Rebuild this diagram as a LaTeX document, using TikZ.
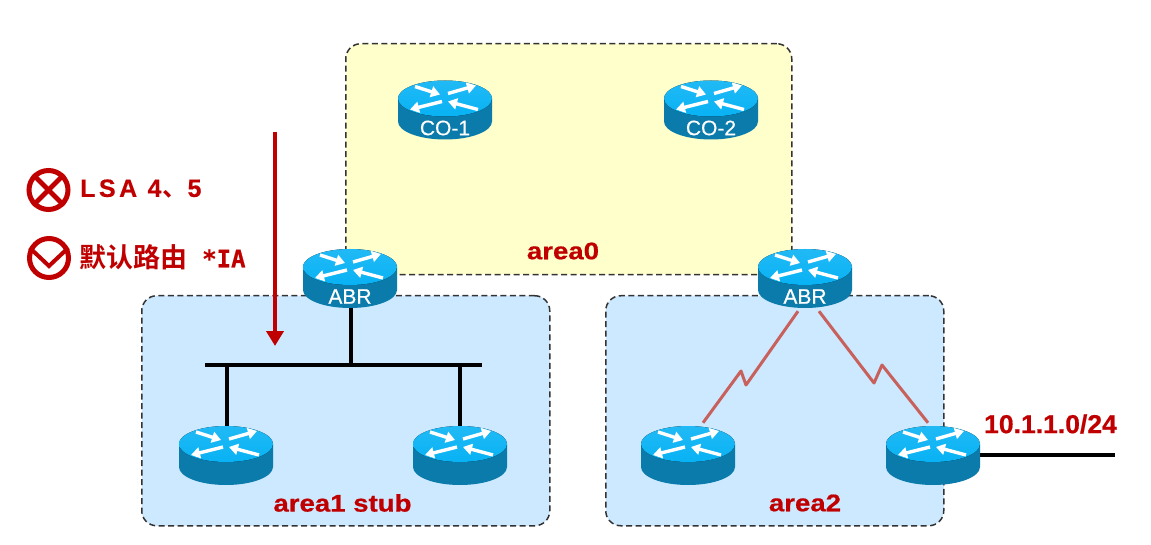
\documentclass[tikz,border=0pt]{standalone}
\usepackage{fontspec}
\setmainfont{Liberation Sans}
\newfontfamily\boldface[FakeBold=0.6]{Liberation Sans Bold}
\newfontfamily\spacedface[FakeBold=0.5,LetterSpace=14]{Liberation Sans Bold}
\newfontfamily\labelface[FakeBold=0.4]{Liberation Sans}
\newfontfamily\cjkfont{Noto Sans CJK SC Bold}
\newfontfamily\monofont[FakeBold=0.6]{DejaVu Sans Mono Bold}
\usetikzlibrary{arrows.meta,calc}
\definecolor{alert}{HTML}{C00000}
\definecolor{zoneyellow}{HTML}{FFFFCC}
\definecolor{zoneblue}{HTML}{CCE9FF}
\definecolor{routertop}{HTML}{08B2F4}
\definecolor{routerside}{HTML}{0A7BAA}
\definecolor{seriallink}{HTML}{C8605C}
\tikzset{
  x=1pt,y=-1pt,
  zone/.style={draw=black!80,line width=1.5pt,dash pattern=on 6pt off 3.5pt,rounded corners=15pt,anchor=north west,inner sep=0pt},
  arealabel/.style={font=\fontsize{24}{26}\boldface,text=alert,xscale=1.15,transform shape,inner sep=0pt},
  routerbox/.style={minimum width=94pt,minimum height=59pt,inner sep=0pt},
  routertext/.style={text=white,font=\fontsize{21}{23}\labelface,inner sep=0pt},
  wire/.style={line width=3.2pt,black},
  serial/.style={line width=3pt,seriallink,line join=round},
  flow/.style={white,line width=3.4pt,-{Triangle[width=11pt,length=9pt]}},
  badge/.style={draw=alert,line width=5pt,circle,inner sep=0pt,minimum size=39pt},
  badgeline/.style={alert,line width=4.6pt},
}
% Cisco-style router: a drum with four arrows on its top face
\newcommand{\router}[4]{%
  \node[routerbox] (#1) at (#2,#3+11.5) {};
  \begin{scope}[shift={(#2,#3)}]
    \fill[routerside] (-47pt,0) -- (-47pt,23) arc[start angle=180,end angle=360,x radius=47pt,y radius=18pt] -- (47pt,0) -- cycle;
    \fill[top color=routertop!90!white,bottom color=routertop] (0,0) ellipse[x radius=47pt,y radius=18pt];
    \draw[flow] (-30,-12) -- (-5,-4);
    \draw[flow] (3,-5) -- (31,-13);
    \draw[flow] (-3,3) -- (-35,11);
    \draw[flow] (33,11) -- (3,3);
  \end{scope}
  \node[routertext] (#1label) at (#2,#3+29.5) {#4};
}
\begin{document}
\begin{tikzpicture}
\useasboundingbox (0,0) rectangle (1151,545);
\fill[white] (0,0) rectangle (1151,545);

% OSPF areas
\node[zone,fill=zoneyellow,minimum width=446pt,minimum height=231pt] (area0) at (345,43) {};
\node[zone,fill=zoneblue,minimum width=408pt,minimum height=230pt] (area1) at (141,295) {};
\node[zone,fill=zoneblue,minimum width=338pt,minimum height=230pt] (area2) at (605,295) {};
\node[arealabel] (area0text) at (563,251) {area0};
\node[arealabel] (area1text) at (342.5,503) {area1 stub};
\node[arealabel] (area2text) at (805,503) {area2};

% Routers
\router{coa}{445}{98.5}{CO-1}
\router{cob}{711}{98.5}{CO-2}
\router{abra}{350}{267}{ABR}
\router{abrb}{805}{267}{ABR}
\router{ra}{226}{444}{}
\router{rb}{460}{444}{}
\router{rc}{688}{444}{}
\router{rd}{933}{444}{}

% Shared segment in the stub area
\coordinate (busl) at (205,365);
\coordinate (busr) at (482,365);
\draw[wire] (busl) -- (busr);
\draw[wire] (abra.south) ++(1,0) -- ($(busl)!(abra.south)!(busr)+(1,0)$);
\draw[wire] (ra.north) ++(1,0) -- ($(busl)!(ra.north)!(busr)+(1,0)$);
\draw[wire] (rb.north) -- ($(busl)!(rb.north)!(busr)$);

% Serial links in area 2
\coordinate (kinkaa) at (746,385);
\coordinate (kinkab) at (741,371);
\coordinate (kinkba) at (874,383);
\coordinate (kinkbb) at (882,365);
\draw[serial] ([xshift=-7pt,yshift=-3pt]abrb.south) -- (kinkaa) -- (kinkab) -- ([xshift=15pt,yshift=3pt]rc.north);
\draw[serial] ([xshift=14pt,yshift=-3pt]abrb.south) -- (kinkba) -- (kinkbb) -- ([xshift=-5pt,yshift=3pt]rd.north);

% External network
\coordinate (extnet) at (1115,455);
\draw[wire] (rd.east |- extnet) -- (extnet);
\node[font=\fontsize{26}{28}\boldface,text=alert,inner sep=0pt,xscale=1.02,transform shape] (prefix) at (1050.5,424) {10.1.1.0/24};

% Filtering direction
\coordinate (flowstart) at (275,132);
\coordinate (flowend) at (275,346);
\draw[alert,line width=4.6pt,-{Triangle[width=17pt,length=15pt]}] (flowstart) -- (flowend);

% Legend: blocked and permitted LSAs
\node[badge] (deny) at (48.5,190) {};
\draw[badgeline] (deny.45) -- (deny.225);
\draw[badgeline] (deny.135) -- (deny.315);
\node[anchor=west,inner sep=0pt,text=alert,font=\fontsize{25}{27}\spacedface] (denytext) at (80,189) {LSA 4{\cjkfont\hspace{1pt}、}5};
\node[badge] (allow) at (49,258) {};
\coordinate (vbottom) at (49,266);
\draw[badgeline,line width=4pt,line join=miter] (allow.152) -- (vbottom) -- (allow.28);
\node[anchor=west,inner sep=0pt,text=alert,font=\fontsize{27}{29}\selectfont] (allowtext) at (79,257) {\cjkfont 默认路由\hspace{15pt}\fontsize{24}{26}\monofont *IA};
\end{tikzpicture}
\end{document}
